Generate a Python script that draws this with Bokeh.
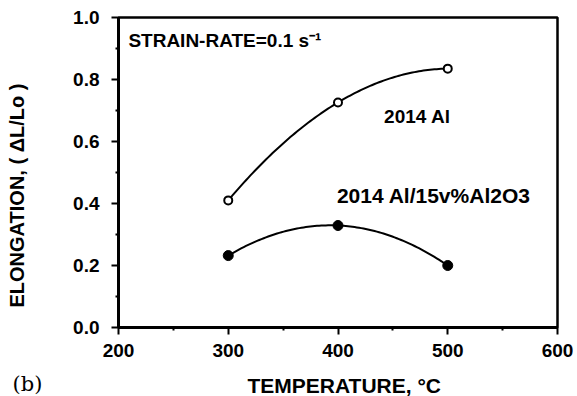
import numpy as np
from bokeh.plotting import figure
from bokeh.models import Label, Range1d, FixedTicker, Title, CustomJSTickFormatter
from bokeh.embed import file_html
from bokeh.resources import INLINE

# data
temps = [300, 400, 500]
al2014 = [0.41, 0.726, 0.835]
composite = [0.232, 0.329, 0.20]
x_ticks = [200, 300, 400, 500, 600]
y_ticks = [0.0, 0.2, 0.4, 0.6, 0.8, 1.0]

FONT = "Liberation Sans"

p = figure(width=577, height=396, output_backend="svg", toolbar_location=None,
           x_range=Range1d(200, 600), y_range=Range1d(0, 1.0))
p.min_border_left = 118
p.min_border_right = 20
p.min_border_top = 17
p.min_border_bottom = 69
p.background_fill_color = "white"
p.border_fill_color = "white"
p.grid.visible = False
p.outline_line_color = "black"
p.outline_line_width = 2.5

for ax in (p.xaxis[0], p.yaxis[0]):
    ax.axis_line_width = 3
    ax.axis_line_color = "black"
    ax.major_tick_line_width = 2
    ax.minor_tick_line_width = 2
    ax.major_tick_in = 0
    ax.major_tick_out = 7
    ax.minor_tick_in = 0
    ax.minor_tick_out = 3
    ax.major_label_text_font = FONT
    ax.major_label_text_font_style = "bold"
    ax.major_label_text_font_size = "19px"
    ax.major_label_text_color = "black"

p.xaxis.ticker = FixedTicker(ticks=x_ticks, minor_ticks=[250, 350, 450, 550])
p.yaxis.ticker = FixedTicker(ticks=y_ticks, minor_ticks=[0.1, 0.3, 0.5, 0.7, 0.9])
p.xaxis.major_label_standoff = 9
p.yaxis.major_label_standoff = 12
p.yaxis.formatter = CustomJSTickFormatter(code="return tick.toFixed(1);")

# smooth fitted curves through the measured points
xs = np.linspace(min(temps), max(temps), 100)
c1 = np.polyfit(temps, al2014, 2)
c2 = np.polyfit(temps, composite, 2)
p.line(xs, np.polyval(c1, xs), line_color="black", line_width=2)
p.line(xs, np.polyval(c2, xs), line_color="black", line_width=2)

p.scatter(temps, al2014, marker="circle", size=8, fill_color="white",
          line_color="black", line_width=2)
p.scatter(temps, composite, marker="circle", size=10, fill_color="black",
          line_color="black", line_width=1)

def lab(x, y, text, size):
    p.add_layout(Label(x=x, y=y, text=text, text_font=FONT,
                       text_font_size=size, text_font_style="bold",
                       text_align="left", text_baseline="middle",
                       text_color="black"))

lab(209, 0.926, "STRAIN-RATE=0.1 s\u207b\u00b9", "19px")
lab(442, 0.68, "2014 Al", "19px")
lab(399, 0.425, "2014 Al/15v%Al2O3", "21px")

# axis titles (zero-size panels, positioned through standoff)
p.add_layout(Title(text="TEMPERATURE, \u00b0C", align="left", offset=129,
                   vertical_align="bottom",
                   text_font=FONT, text_font_size="21px", text_font_style="bold",
                   text_color="black", standoff=-74), "below")
p.add_layout(Title(text="(b)", align="left", offset=-106,
                   vertical_align="bottom",
                   text_font="DejaVu Serif", text_font_size="21px",
                   text_font_style="normal", text_color="black",
                   standoff=-72), "below")
p.add_layout(Title(text="ELONGATION, ( \u0394L/Lo )", align="left", offset=20,
                   vertical_align="top",
                   text_font=FONT, text_font_size="20px", text_font_style="bold",
                   text_color="black", standoff=-130), "left")

open("out.html", "w").write(file_html(p, INLINE))
